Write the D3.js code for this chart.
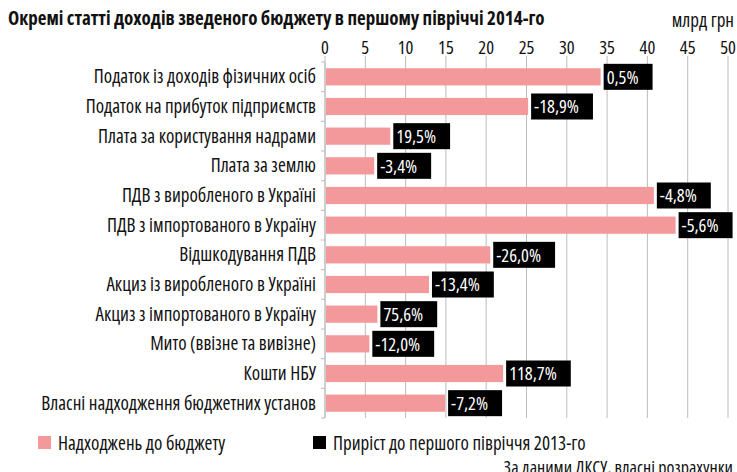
<!DOCTYPE html>
<html>
<head>
<meta charset="utf-8">
<script src="https://cdn.jsdelivr.net/npm/d3@7"></script>
<style>
  body { margin: 0; background: #fff; }
  svg text { font-family: "Open Sans", sans-serif; font-stretch: 75%; }
</style>
</head>
<body>
<div id="chart"></div>
<script>
// статті доходів
var categories = [
  "Податок із доходів фізичних осіб",
  "Податок на прибуток підприємств",
  "Плата за користування надрами",
  "Плата за землю",
  "ПДВ з виробленого в Україні",
  "ПДВ з імпортованого в Україну",
  "Відшкодування ПДВ",
  "Акциз із виробленого в Україні",
  "Акциз з імпортованого в Україну",
  "Мито (ввізне та вивізне)",
  "Кошти НБУ",
  "Власні надходження бюджетних установ"
];
// млрд грн
var revenue = [34.2, 25.2, 8.1, 6.1, 40.8, 43.5, 20.5, 12.9, 6.5, 5.5, 22.1, 14.9];
// приріст до першого півріччя 2013-го
var growth = ["0,5%", "-18,9%", "19,5%", "-3,4%", "-4,8%", "-5,6%", "-26,0%", "-13,4%", "75,6%", "-12,0%", "118,7%", "-7,2%"];
var xTicks = [0, 5, 10, 15, 20, 25, 30, 35, 40, 45, 50];

var width = 737, height = 472;
var margin = {top: 62, right: 9, bottom: 54, left: 325};
var PINK = "#f4999b";

var svg = d3.select("#chart").append("svg")
  .attr("width", width)
  .attr("height", height);

var x = d3.scaleLinear().domain([0, 50]).range([margin.left, width - margin.right]);
var y = d3.scaleBand().domain(categories).range([margin.top, height - margin.bottom]).paddingInner(0.42).paddingOuter(0.21);

// grid
svg.append("g")
  .selectAll("line")
  .data(xTicks)
  .join("line")
    .attr("x1", d => x(d)).attr("x2", d => x(d))
    .attr("y1", margin.top - 6).attr("y2", height - margin.bottom)
    .attr("stroke", "#bcbcbc")
    .attr("stroke-width", 1);

// top axis labels
svg.append("g")
  .selectAll("text")
  .data(xTicks)
  .join("text")
    .attr("x", d => x(d))
    .attr("y", 54)
    .attr("text-anchor", "middle")
    .attr("font-size", 18.5)
    .attr("fill", "#111")
    .text(d => d);

// left axis
var yAxis = svg.append("g")
  .attr("transform", `translate(${margin.left},0)`);
yAxis.append("line")
  .attr("x1", 0).attr("x2", 0)
  .attr("y1", margin.top).attr("y2", height - margin.bottom)
  .attr("stroke", "#bcbcbc");
var step = y.step();
yAxis.selectAll("line.tick")
  .data(d3.range(categories.length + 1))
  .join("line")
    .attr("class", "tick")
    .attr("x1", -4).attr("x2", 0)
    .attr("y1", i => margin.top + i * step).attr("y2", i => margin.top + i * step)
    .attr("stroke", "#bcbcbc");

svg.append("g")
  .selectAll("text")
  .data(categories)
  .join("text")
    .attr("x", margin.left - 9)
    .attr("y", d => y(d) + y.bandwidth() / 2)
    .attr("dy", "0.35em")
    .attr("text-anchor", "end")
    .attr("font-size", 19)
    .attr("fill", "#111")
    .text(d => d);

// bars
svg.append("g")
  .selectAll("rect")
  .data(revenue)
  .join("rect")
    .attr("x", x(0) + 1)
    .attr("y", (d, i) => y(categories[i]))
    .attr("width", d => x(d) - x(0) - 1)
    .attr("height", y.bandwidth())
    .attr("fill", PINK);

// growth labels in black boxes
var lab = svg.append("g")
  .selectAll("g")
  .data(growth)
  .join("g")
    .attr("transform", (d, i) => `translate(${x(revenue[i]) + 3},${y(categories[i]) + y.bandwidth() / 2})`);

lab.append("rect")
  .attr("y", -13)
  .attr("height", 26)
  .attr("fill", "#000");

lab.append("text")
  .attr("x", 3)
  .attr("dy", "0.36em")
  .attr("font-size", 18.5)
  .attr("fill", "#fff")
  .text(d => d)
  .each(function() {
    var w = this.getComputedTextLength();
    d3.select(this.parentNode).select("rect").attr("width", w + 17);
  });

// title
svg.append("text")
  .attr("x", 8).attr("y", 25)
  .attr("font-size", 19)
  .attr("font-weight", "bold")
  .attr("fill", "#111")
  .text("Окремі статті доходів зведеного бюджету в першому півріччі 2014-го");

svg.append("text")
  .attr("x", 734).attr("y", 27)
  .attr("text-anchor", "end")
  .attr("font-size", 19)
  .attr("fill", "#111")
  .text("млрд грн");

// legend
var legend = [
  {label: "Надходжень до бюджету", color: PINK, x: 38},
  {label: "Приріст до першого півріччя 2013-го", color: "#000", x: 313}
];
var lg = svg.append("g")
  .selectAll("g")
  .data(legend)
  .join("g")
    .attr("transform", d => `translate(${d.x},436)`);
lg.append("rect").attr("width", 13).attr("height", 13).attr("fill", d => d.color);
lg.append("text")
  .attr("x", 20).attr("y", 7)
  .attr("dy", "0.35em")
  .attr("font-size", 19)
  .attr("fill", "#111")
  .text(d => d.label);

svg.append("text")
  .attr("x", 733).attr("y", 474)
  .attr("text-anchor", "end")
  .attr("font-size", 18)
  .attr("fill", "#111")
  .text("За даними ДКСУ, власні розрахунки");
</script>
</body>
</html>
